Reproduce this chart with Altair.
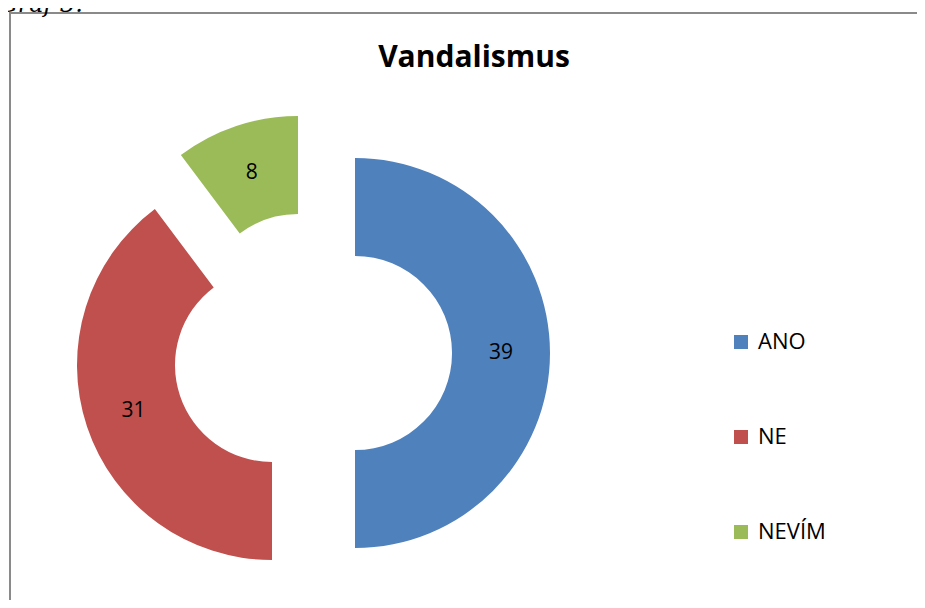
import altair as alt
import pandas as pd

categories = ["ANO", "NE", "NEVÍM"]
values = [39, 31, 8]
colors = ["#4F81BD", "#C0504D", "#9BBB59"]
title_text = "Vandalismus"
caption_text = "Graf 3."

# exploded slice centres (chart pixels), style only
centers = {"ANO": (347, 345), "NE": (264, 357), "NEVÍM": (290, 303)}

df = pd.DataFrame({"kategorie": categories, "pocet": values})
one = pd.DataFrame({"a": [0]})

W, H = 909, 592

base = alt.Chart(df).transform_window(
    konec="sum(pocet)", frame=[None, 0]
).transform_calculate(
    zacatek="datum.konec - datum.pocet",
    stred="(datum.konec + datum.zacatek) / 2",
)

theta_scale = alt.Scale(domain=[0, sum(values)], nice=False)
color = alt.Color(
    "kategorie:N",
    scale=alt.Scale(domain=categories, range=colors),
    legend=alt.Legend(
        title=None,
        orient="none",
        legendX=722,
        legendY=323,
        symbolType="square",
        symbolSize=196,
        symbolStrokeWidth=0,
        labelFont="Open Sans",
        labelFontSize=22,
        labelColor="black",
        labelOffset=6,
        rowPadding=73,
        padding=0,
    ),
)

layers = []
for cat in categories:
    cx, cy = centers[cat]
    arc = base.transform_filter(alt.datum.kategorie == cat).mark_arc(
        outerRadius=195, innerRadius=97
    ).encode(
        theta=alt.Theta("zacatek:Q", scale=theta_scale),
        theta2="konec:Q",
        color=color,
        x=alt.value(cx),
        y=alt.value(cy),
    )
    lab = base.transform_filter(alt.datum.kategorie == cat).mark_text(
        radius=146, font="Open Sans", fontSize=21, color="black"
    ).encode(
        theta=alt.Theta("stred:Q", scale=theta_scale),
        text="pocet:Q",
        x=alt.value(cx),
        y=alt.value(cy),
    )
    layers += [arc, lab]

border = alt.Chart(one).mark_rect(
    fillOpacity=0, stroke="#8a8a8a", strokeWidth=2
).encode(
    x=alt.value(2), y=alt.value(5), x2=alt.value(W + 30), y2=alt.value(H + 30)
)

title = alt.Chart(one).mark_text(
    text=title_text, font="Open Sans", fontSize=30, fontWeight="bold",
    color="black", baseline="middle", align="center"
).encode(x=alt.value(466), y=alt.value(50))

caption = alt.Chart(one).mark_text(
    text=caption_text, font="DejaVu Serif", fontStyle="italic", fontSize=24,
    color="black", align="right", baseline="alphabetic"
).encode(x=alt.value(75), y=alt.value(4))

chart = alt.layer(border, *layers, title, caption).properties(
    width=W, height=H, autosize=alt.AutoSizeParams(type="none"), padding=0
).configure_view(stroke=None)

chart.save("out.html", embed_options={"renderer": "svg", "actions": False})
